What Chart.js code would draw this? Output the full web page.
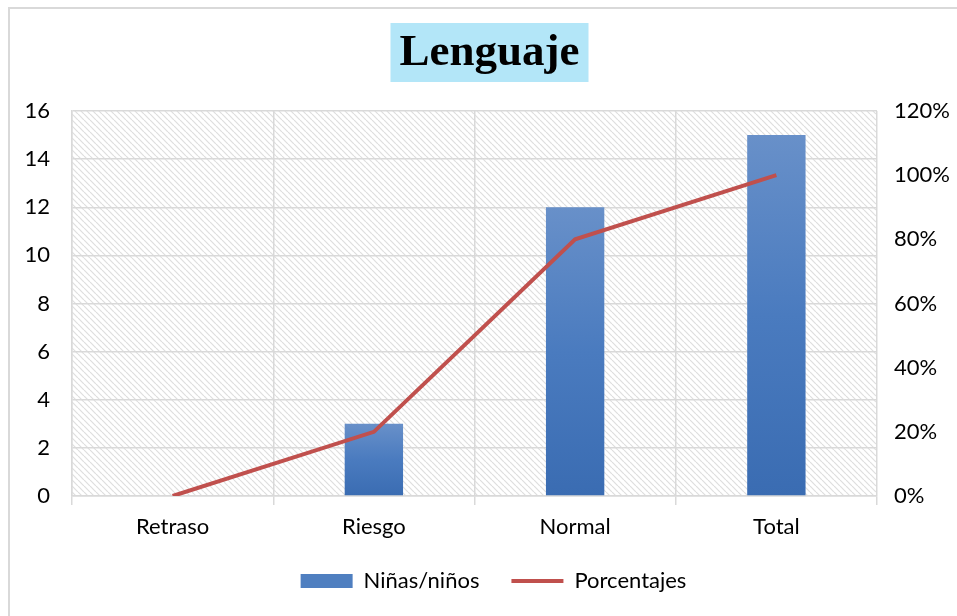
<!DOCTYPE html>
<html lang="es">
<head>
    <meta charset="UTF-8">
    <title>Lenguaje</title>
    <style>
        body {
            margin: 0;
            padding: 0;
            background: #ffffff;
            overflow: hidden;
        }
        #frame {
            position: absolute;
            left: 8px;
            top: 7px;
            width: 1000px;
            height: 700px;
            border: 2px solid #d9d9d9;
            box-sizing: border-box;
        }
        #chart {
            position: absolute;
            left: 0;
            top: 0;
        }
    </style>
</head>
<body>
    <div id="frame"></div>
    <canvas id="chart" width="957" height="616"></canvas>

    <script src="https://cdn.jsdelivr.net/npm/chart.js"></script>
    <script>
        const chartTitle = 'Lenguaje';
        const categories = ['Retraso', 'Riesgo', 'Normal', 'Total'];
        const ninos = [0, 3, 12, 15];
        const porcentajes = [0, 20, 80, 100];
        const leftTicks = [0, 2, 4, 6, 8, 10, 12, 14, 16];
        const rightTicks = [0, 20, 40, 60, 80, 100, 120];

        const gridColor = '#d9d9d9';
        const lineColor = '#c0504d';
        const tickFont = { family: 'Lato', size: 22 };
        const titleFont = 'bold 45px "Liberation Serif"';

        // diagonal hatch for the plot area
        function makeHatch() {
            const tile = document.createElement('canvas');
            tile.width = 6;
            tile.height = 6;
            const c = tile.getContext('2d');
            c.fillStyle = '#ffffff';
            c.fillRect(0, 0, 6, 6);
            c.strokeStyle = '#dedede';
            c.lineWidth = 1.2;
            [-6, 0, 6].forEach(off => {
                c.beginPath();
                c.moveTo(off, 0);
                c.lineTo(off + 6, 6);
                c.stroke();
            });
            return c.createPattern(tile, 'repeat');
        }

        const plotBackground = {
            id: 'plotBackground',
            afterLayout(chart) {
                // legend sits a little right of centre, like the frame
                if (chart.legend) {
                    chart.legend.left += 15;
                    chart.legend.right += 15;
                }
            },
            beforeDraw(chart) {
                const { ctx, chartArea } = chart;
                ctx.save();
                ctx.fillStyle = makeHatch();
                ctx.fillRect(chartArea.left, chartArea.top, chartArea.right - chartArea.left, chartArea.bottom - chartArea.top);
                ctx.restore();
            },
            afterDraw(chart) {
                // title with cyan box, centred over the outer frame
                const ctx = chart.ctx;
                ctx.save();
                ctx.font = titleFont;
                const w = ctx.measureText(chartTitle).width;
                const cx = 489.5;
                ctx.fillStyle = '#b3e6f8';
                ctx.fillRect(cx - w / 2 - 9, 23, w + 18, 59);
                ctx.fillStyle = '#000';
                ctx.textAlign = 'center';
                ctx.textBaseline = 'middle';
                ctx.fillText(chartTitle, cx, 53);
                ctx.restore();
            }
        };

        function barGradient(context) {
            const chart = context.chart;
            if (!chart.chartArea || !chart.scales.y) {
                return '#4f7fc0';
            }
            const y = chart.scales.y;
            const top = y.getPixelForValue(context.raw);
            const bottom = y.getPixelForValue(0);
            if (bottom - top < 1) {
                return '#4f7fc0';
            }
            const g = chart.ctx.createLinearGradient(0, top, 0, bottom);
            g.addColorStop(0, '#6890c9');
            g.addColorStop(0.5, '#4a7bbf');
            g.addColorStop(1, '#3a6cb2');
            return g;
        }

        new Chart(document.getElementById('chart'), {
            data: {
                labels: categories,
                datasets: [
                    {
                        type: 'bar',
                        label: 'Niñas/niños',
                        data: ninos,
                        backgroundColor: barGradient,
                        borderWidth: 0,
                        barPercentage: 0.29,
                        categoryPercentage: 1,
                        yAxisID: 'y',
                        order: 2
                    },
                    {
                        type: 'line',
                        label: 'Porcentajes',
                        data: porcentajes,
                        borderColor: lineColor,
                        backgroundColor: lineColor,
                        borderWidth: 4,
                        pointRadius: 0,
                        tension: 0,
                        yAxisID: 'y1',
                        order: 1
                    }
                ]
            },
            options: {
                responsive: false,
                animation: false,
                layout: {
                    padding: { top: 111, left: 0, right: 0, bottom: 14 }
                },
                scales: {
                    x: {
                        offset: true,
                        grid: {
                            offset: true,
                            color: gridColor,
                            lineWidth: 1.5,
                            tickLength: 9
                        },
                        border: { color: gridColor, width: 1.5 },
                        ticks: { color: '#000', font: tickFont, padding: 9 },
                        afterFit(scale) { scale.height = 42; }
                    },
                    y: {
                        position: 'left',
                        min: 0,
                        max: 16,
                        afterBuildTicks(scale) {
                            scale.ticks = leftTicks.map(v => ({ value: v }));
                        },
                        grid: { color: gridColor, lineWidth: 1.5, drawTicks: false },
                        border: { color: gridColor, width: 1.5 },
                        ticks: { color: '#000', font: tickFont, padding: 22 },
                        afterFit(scale) { scale.width = 72; }
                    },
                    y1: {
                        position: 'right',
                        min: 0,
                        max: 120,
                        afterBuildTicks(scale) {
                            scale.ticks = rightTicks.map(v => ({ value: v }));
                        },
                        grid: { display: false, drawTicks: false },
                        border: { display: false },
                        ticks: {
                            color: '#000',
                            font: tickFont,
                            padding: 17,
                            callback: v => v + '%'
                        },
                        afterFit(scale) { scale.width = 80; }
                    }
                },
                plugins: {
                    title: { display: false },
                    legend: {
                        position: 'bottom',
                        labels: {
                            color: '#000',
                            font: tickFont,
                            usePointStyle: true,
                            pointStyleWidth: 52,
                            boxHeight: 14,
                            padding: 32,
                            generateLabels(chart) {
                                return [
                                    {
                                        text: 'Niñas/niños',
                                        fillStyle: '#4f7fc0',
                                        strokeStyle: '#4f7fc0',
                                        lineWidth: 0,
                                        pointStyle: 'rect',
                                        datasetIndex: 0
                                    },
                                    {
                                        text: 'Porcentajes',
                                        fillStyle: lineColor,
                                        strokeStyle: lineColor,
                                        lineWidth: 4,
                                        pointStyle: 'line',
                                        datasetIndex: 1
                                    }
                                ];
                            }
                        }
                    },
                    tooltip: { enabled: false }
                }
            },
            plugins: [plotBackground]
        });
    </script>
</body>
</html>
